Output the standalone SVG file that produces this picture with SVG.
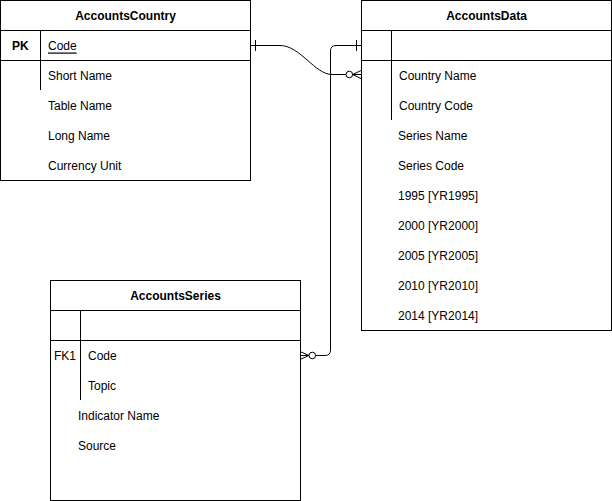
<svg xmlns="http://www.w3.org/2000/svg" width="612" height="501" viewBox="0 0 612 501">
<style>
.box{fill:#fff;stroke:#000;stroke-width:1}
.ln{fill:none;stroke:#000;stroke-width:1}
.t{font-family:"Liberation Sans",Arial,sans-serif;font-size:12px;fill:#000;dominant-baseline:central}
.h{font-weight:bold;text-anchor:middle}
</style>
<rect width="612" height="501" fill="#fff"/>
<g id="AccountsCountry">
<rect class="box" x="0.5" y="0.5" width="250" height="180"/>
<line class="ln" x1="0" y1="30.5" x2="250" y2="30.5"/>
<line class="ln" x1="0" y1="60.5" x2="250" y2="60.5"/>
<line class="ln" x1="40.5" y1="30.5" x2="40.5" y2="90"/>
<text class="t h" x="125.5" y="15.5">AccountsCountry</text>
<text class="t" x="12" y="45.5" font-weight="bold">PK</text>
<text class="t" x="48" y="45.5" text-decoration="underline">Code</text>
<text class="t" x="48" y="75.5">Short Name</text>
<text class="t" x="48" y="105.5">Table Name</text>
<text class="t" x="48" y="135.5">Long Name</text>
<text class="t" x="48" y="165.5">Currency Unit</text>
</g>
<g id="AccountsData">
<rect class="box" x="361.5" y="0.5" width="250" height="330"/>
<line class="ln" x1="361" y1="30.5" x2="611" y2="30.5"/>
<line class="ln" x1="361" y1="60.5" x2="611" y2="60.5"/>
<line class="ln" x1="391.5" y1="30.5" x2="391.5" y2="120"/>
<text class="t h" x="486.5" y="15.5">AccountsData</text>
<text class="t" x="399" y="75.5">Country Name</text>
<text class="t" x="399" y="105.5">Country Code</text>
<text class="t" x="398" y="135.5">Series Name</text>
<text class="t" x="398" y="165.5">Series Code</text>
<text class="t" x="398" y="195.5">1995 [YR1995]</text>
<text class="t" x="398" y="225.5">2000 [YR2000]</text>
<text class="t" x="398" y="255.5">2005 [YR2005]</text>
<text class="t" x="398" y="285.5">2010 [YR2010]</text>
<text class="t" x="398" y="315.5">2014 [YR2014]</text>
</g>
<g id="AccountsSeries">
<rect class="box" x="50.5" y="280.5" width="250" height="220"/>
<line class="ln" x1="50" y1="310.5" x2="300" y2="310.5"/>
<line class="ln" x1="50" y1="340.5" x2="300" y2="340.5"/>
<line class="ln" x1="80.5" y1="310.5" x2="80.5" y2="400"/>
<text class="t h" x="175.5" y="295.5">AccountsSeries</text>
<text class="t" x="54" y="355.5">FK1</text>
<text class="t" x="88" y="355.5">Code</text>
<text class="t" x="88" y="385.5">Topic</text>
<text class="t" x="78" y="415.5">Indicator Name</text>
<text class="t" x="78" y="445.5">Source</text>
</g>
<g id="connectors">
<path class="ln" d="M251,45.5 H280 C300,45.5 315,74.5 332,74.5 H346"/>
<line class="ln" x1="255.5" y1="40" x2="255.5" y2="51"/>
<circle class="ln" cx="349.3" cy="74.5" r="3.3"/>
<path class="ln" d="M361,70.5 L352.6,74.5 L361,78.5 M352.6,74.5 H361"/>
<path class="ln" d="M315.6,355.5 H325 Q330.5,355.5 330.5,350 V51 Q330.5,45.5 336,45.5 H361"/>
<line class="ln" x1="356.5" y1="40" x2="356.5" y2="51"/>
<circle class="ln" cx="312.3" cy="355.5" r="3.3"/>
<path class="ln" d="M300,351.5 L309,355.5 L300,359.5 M300,355.5 H309"/>
</g>
</svg>
